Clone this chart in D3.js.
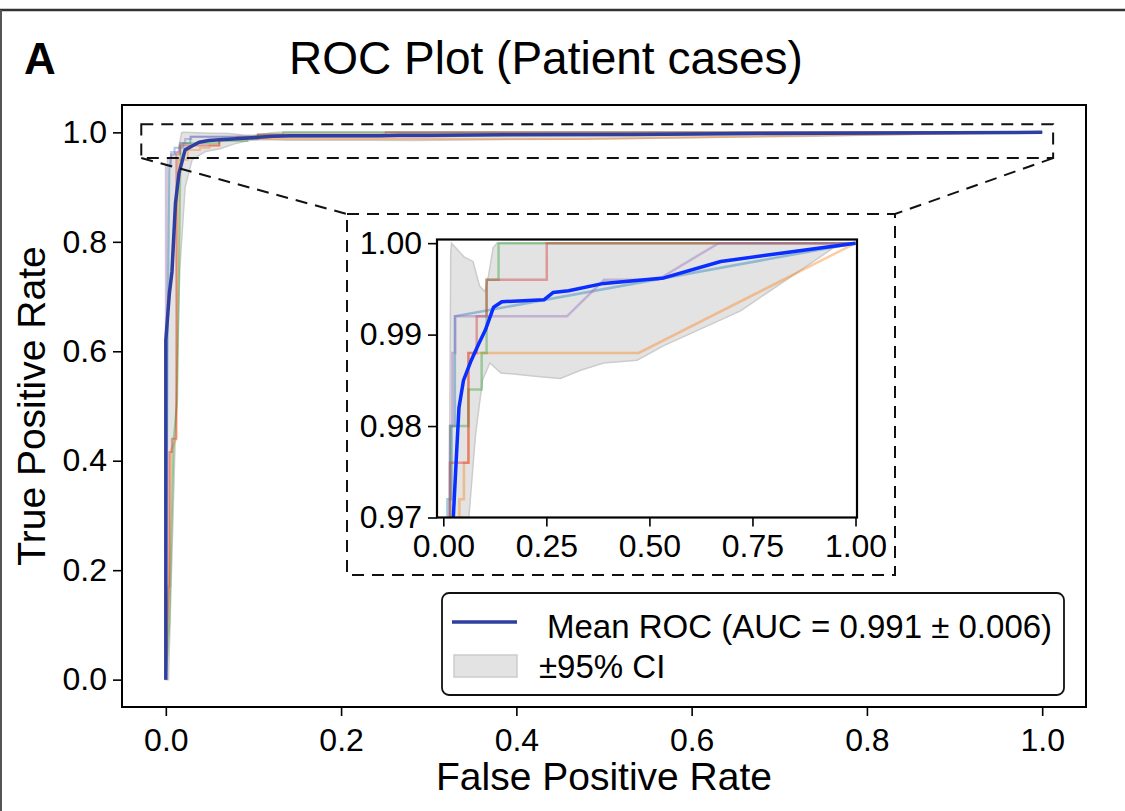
<!DOCTYPE html>
<html>
<head>
<meta charset="utf-8">
<script src="https://cdn.jsdelivr.net/npm/d3@7"></script>
<style>
  body { margin: 0; background: #fff; }
  svg { display: block; font-family: "Liberation Sans", Arial, sans-serif; }
</style>
</head>
<body>
<div id="chart"></div>
<script>
// ROC curves of the five folds, [fpr, tpr]
const foldBlue = [[0, 0], [0.002, 0.6], [0.004, 0.93], [0.006, 0.96], [0.01, 0.96], [0.01, 0.972],
  [0.02, 0.972], [0.02, 0.98], [0.028, 0.98], [0.028, 0.992], [1, 1]];
const foldOrange = [[0, 0], [0.004, 0.2], [0.006, 0.42], [0.012, 0.44], [0.014, 0.95], [0.025, 0.95],
  [0.025, 0.968], [0.039, 0.968], [0.039, 0.972], [0.05, 0.972], [0.05, 0.976], [0.061, 0.976],
  [0.061, 0.988], [0.474, 0.988], [1, 1]];
const foldGreen = [[0, 0], [0.004, 0.1], [0.009, 0.44], [0.013, 0.51], [0.017, 0.976], [0.017, 0.98],
  [0.061, 0.98], [0.061, 0.984], [0.093, 0.984], [0.093, 0.988], [0.105, 0.988], [0.105, 0.996],
  [0.134, 0.996], [0.134, 1], [1, 1]];
const foldRed = [[0, 0], [0.003, 0.17], [0.004, 0.17], [0.004, 0.416], [0.007, 0.416], [0.007, 0.44],
  [0.012, 0.44], [0.012, 0.96], [0.016, 0.96], [0.016, 0.976], [0.061, 0.976], [0.061, 0.988],
  [0.081, 0.988], [0.081, 0.992], [0.105, 0.992], [0.105, 0.996], [0.251, 0.996], [0.251, 1], [1, 1]];
const foldPurple = [[0, 0], [0, 0.94], [0.006, 0.94], [0.006, 0.964], [0.016, 0.964], [0.016, 0.98],
  [0.022, 0.98], [0.022, 0.988], [0.029, 0.988], [0.029, 0.992], [0.3, 0.992], [0.39, 0.996],
  [0.52, 0.996], [0.668, 1], [1, 1]];

// mean ROC and its 95% band
const meanRoc = [[0, 0], [0, 0.62], [0.004, 0.705], [0.007, 0.745], [0.011, 0.87], [0.015, 0.925],
  [0.022, 0.968], [0.031, 0.976], [0.038, 0.982], [0.049, 0.985], [0.066, 0.987], [0.086, 0.989],
  [0.102, 0.9905], [0.122, 0.993], [0.142, 0.9936], [0.244, 0.9938], [0.266, 0.9946], [0.304, 0.9948],
  [0.389, 0.9956], [0.535, 0.9962], [0.673, 0.998], [1, 1]];
const ciUpper = [[0, 0], [0.002, 0.95], [0.014, 0.965], [0.018, 0.999], [0.02, 1], [0.05, 0.9985],
  [0.072, 0.998], [0.088, 0.9953], [0.101, 0.9947], [0.11, 0.9965], [0.121, 0.9995], [0.13, 1], [1, 1]];
const ciLower = [[0.003, 0], [0.01, 0.4], [0.016, 0.75], [0.022, 0.9], [0.03, 0.95], [0.045, 0.965],
  [0.062, 0.97], [0.078, 0.979], [0.095, 0.985], [0.113, 0.9869], [0.14, 0.9858], [0.171, 0.9857],
  [0.235, 0.9854], [0.284, 0.9852], [0.333, 0.9861], [0.389, 0.9869], [0.47, 0.9872], [0.535, 0.9888],
  [0.721, 0.9926], [0.947, 0.9995], [1, 1]];

// ticks and texts
const mainTicks = [0, 0.2, 0.4, 0.6, 0.8, 1.0];
const insetTicksX = [0, 0.25, 0.5, 0.75, 1.0];
const insetTicksY = [0.97, 0.98, 0.99, 1.0];
const zoomBoxX = [-0.028, 1.0125];
const zoomBoxY = [0.953, 1.0148];
const legendLabels = ["Mean ROC (AUC = 0.991 \u00b1 0.006)", "\u00b195% CI"];

const folds = [foldBlue, foldOrange, foldGreen, foldRed, foldPurple];
const foldColors = ["#1f77b4", "#ff7f0e", "#2ca02c", "#d62728", "#9467bd"];

const width = 1125;
const height = 811;
const main = { left: 122, right: 1086, top: 105, bottom: 707 };
const inset = { left: 437, right: 857, top: 239.5, bottom: 517.5 };

const svg = d3
  .select("#chart")
  .append("svg")
  .attr("width", width)
  .attr("height", height);

svg.append("rect").attr("width", width).attr("height", height).attr("fill", "#fff");

// outer frame (top and left edge)
svg.append("line").attr("x1", 0).attr("x2", width).attr("y1", 10).attr("y2", 10)
  .attr("stroke", "#333").attr("stroke-width", 2.5);
svg.append("line").attr("x1", 1).attr("x2", 1).attr("y1", 10).attr("y2", height)
  .attr("stroke", "#555").attr("stroke-width", 2);

// Title
svg.append("text").attr("x", 24).attr("y", 74).text("A")
  .style("font-size", "44px").style("font-weight", "bold");
svg.append("text").attr("x", 546).attr("y", 74).attr("text-anchor", "middle")
  .text("ROC Plot (Patient cases)").style("font-size", "46px");

// Scales
const xMain = d3.scaleLinear().domain([-0.05, 1.05]).range([main.left, main.right]);
const yMain = d3.scaleLinear().domain([-0.05, 1.05]).range([main.bottom, main.top]);
const xInset = d3.scaleLinear().domain([-0.0153, 1.0036]).range([inset.left, inset.right]);
const yInset = d3.scaleLinear().domain([0.97, 1.0004]).range([inset.bottom, inset.top]);

const defs = svg.append("defs");
defs.append("clipPath").attr("id", "clip-main").append("rect")
  .attr("x", main.left).attr("y", main.top)
  .attr("width", main.right - main.left).attr("height", main.bottom - main.top);
defs.append("clipPath").attr("id", "clip-inset").append("rect")
  .attr("x", inset.left).attr("y", inset.top)
  .attr("width", inset.right - inset.left).attr("height", inset.bottom - inset.top);

function drawCurves(clipId, x, y, opt) {
  const g = svg.append("g").attr("clip-path", `url(#${clipId})`);
  const line = d3.line().x((d) => x(d[0])).y((d) => y(d[1]));

  // band
  const band = ciUpper.concat(ciLower.slice().reverse());
  g.append("path")
    .attr("d", line(band) + "Z")
    .attr("fill", "#e3e3e3")
    .attr("stroke", "#cccccc")
    .attr("stroke-width", 1.5);

  // folds
  g.selectAll(".fold")
    .data(folds)
    .join("path")
    .attr("class", "fold")
    .attr("d", line)
    .attr("fill", "none")
    .attr("stroke", (d, i) => foldColors[i])
    .attr("stroke-opacity", 0.4)
    .attr("stroke-width", opt.foldWidth);

  // mean
  g.append("path")
    .attr("d", line(meanRoc))
    .attr("fill", "none")
    .attr("stroke", opt.meanColor)
    .attr("stroke-width", opt.meanWidth)
    .attr("stroke-linejoin", "round");
}

function styleAxis(g) {
  g.select(".domain").remove();
  g.selectAll(".tick line").attr("stroke", "#000").attr("stroke-width", 1.6);
  g.selectAll(".tick text").style("font-size", "32px").attr("fill", "#000");
}

// Main plot
drawCurves("clip-main", xMain, yMain, { foldWidth: 2, meanColor: "#2e3f9f", meanWidth: 3.5 });

svg.append("g")
  .attr("transform", `translate(0, ${main.bottom})`)
  .call(d3.axisBottom(xMain).tickValues(mainTicks).tickFormat(d3.format(".1f")).tickSize(9).tickPadding(12))
  .call(styleAxis);
svg.append("g")
  .attr("transform", `translate(${main.left}, 0)`)
  .call(d3.axisLeft(yMain).tickValues(mainTicks).tickFormat(d3.format(".1f")).tickSize(9).tickPadding(6))
  .call(styleAxis);

svg.append("rect")
  .attr("x", main.left).attr("y", main.top)
  .attr("width", main.right - main.left).attr("height", main.bottom - main.top)
  .attr("fill", "none").attr("stroke", "#000").attr("stroke-width", 2);

svg.append("text").attr("x", (main.left + main.right) / 2).attr("y", 790)
  .attr("text-anchor", "middle").text("False Positive Rate").style("font-size", "39px");
svg.append("text").attr("transform", `translate(45, ${(main.top + main.bottom) / 2}) rotate(-90)`)
  .attr("text-anchor", "middle").text("True Positive Rate").style("font-size", "39px");

// Zoom indicator
const dash = "12,8";
const boxL = xMain(zoomBoxX[0]);
const boxR = xMain(zoomBoxX[1]);
const boxT = yMain(zoomBoxY[1]);
const boxB = yMain(zoomBoxY[0]);
svg.append("rect")
  .attr("x", boxL).attr("y", boxT).attr("width", boxR - boxL).attr("height", boxB - boxT)
  .attr("fill", "none").attr("stroke", "#111").attr("stroke-width", 2).attr("stroke-dasharray", dash);

const outer = { left: 347, right: 895, top: 214, bottom: 575 };
svg.append("rect")
  .attr("x", outer.left).attr("y", outer.top)
  .attr("width", outer.right - outer.left).attr("height", outer.bottom - outer.top)
  .attr("fill", "#fff").attr("stroke", "#111").attr("stroke-width", 2).attr("stroke-dasharray", dash);

svg.append("line").attr("x1", boxL).attr("y1", boxB).attr("x2", outer.left).attr("y2", outer.top)
  .attr("stroke", "#111").attr("stroke-width", 2).attr("stroke-dasharray", dash);
svg.append("line").attr("x1", boxR).attr("y1", boxB).attr("x2", outer.right).attr("y2", outer.top)
  .attr("stroke", "#111").attr("stroke-width", 2).attr("stroke-dasharray", dash);

// Inset
drawCurves("clip-inset", xInset, yInset, { foldWidth: 2.5, meanColor: "#0a2eff", meanWidth: 3.5 });

svg.append("g")
  .attr("transform", `translate(0, ${inset.bottom})`)
  .call(d3.axisBottom(xInset).tickValues(insetTicksX).tickFormat(d3.format(".2f")).tickSize(9).tickPadding(8))
  .call(styleAxis);
svg.append("g")
  .attr("transform", `translate(${inset.left}, 0)`)
  .call(d3.axisLeft(yInset).tickValues(insetTicksY).tickFormat(d3.format(".2f")).tickSize(9).tickPadding(6))
  .call(styleAxis);

svg.append("rect")
  .attr("x", inset.left).attr("y", inset.top)
  .attr("width", inset.right - inset.left).attr("height", inset.bottom - inset.top)
  .attr("fill", "none").attr("stroke", "#000").attr("stroke-width", 2.2);

// Legend
const legend = svg.append("g");
legend.append("rect")
  .attr("x", 442).attr("y", 593).attr("width", 622).attr("height", 102).attr("rx", 7)
  .attr("fill", "#fff").attr("stroke", "#111").attr("stroke-width", 1.8);
legend.append("line").attr("x1", 452).attr("x2", 517).attr("y1", 622).attr("y2", 622)
  .attr("stroke", "#2e3f9f").attr("stroke-width", 3.5);
legend.append("rect").attr("x", 454).attr("y", 655).attr("width", 63).attr("height", 22)
  .attr("fill", "#e3e3e3").attr("stroke", "#cccccc").attr("stroke-width", 1.5);
legend.append("text").attr("x", 547).attr("y", 638).text(legendLabels[0]).style("font-size", "33px");
legend.append("text").attr("x", 539).attr("y", 678).text(legendLabels[1]).style("font-size", "33px");
</script>
</body>
</html>
